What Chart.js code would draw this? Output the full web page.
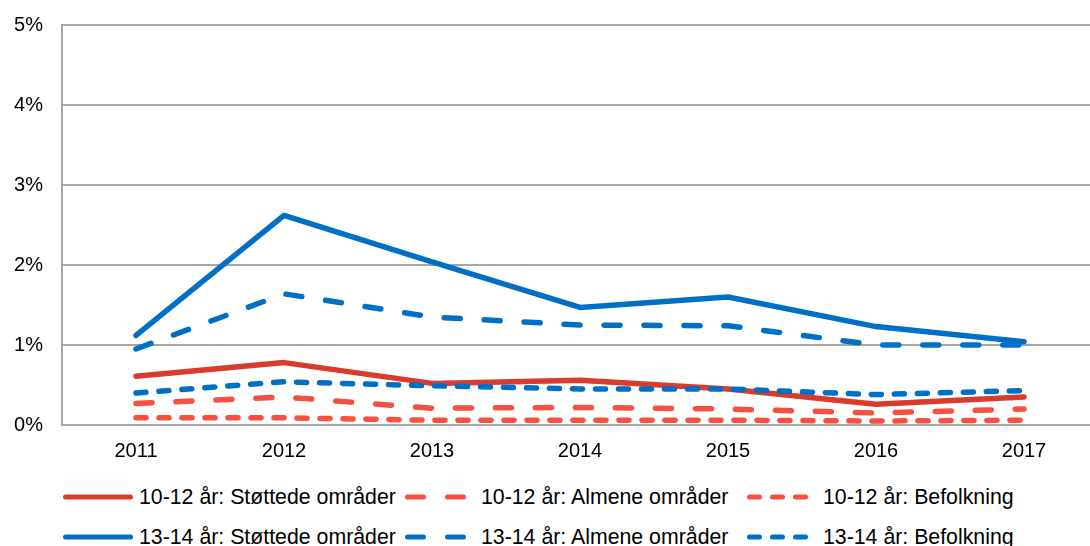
<!DOCTYPE html>
<html>
<head>
<meta charset="utf-8">
<script src="https://cdn.jsdelivr.net/npm/chart.js@4/dist/chart.umd.min.js"></script>
<style>
  html, body { margin: 0; padding: 0; background: #fff; overflow: hidden; }
  body { width: 1090px; height: 546px; position: relative; font-family: "Liberation Sans", Arial, sans-serif; }
  #wrap { position: absolute; left: 0; top: 0; width: 1100px; height: 470px; }
  #legend { position: absolute; left: 63px; top: 477px; width: 1030px; }
  .row { display: flex; height: 40px; align-items: center; }
  .item { width: 342px; display: flex; align-items: center; flex: none; }
  .item svg { width: 70px; height: 10px; flex: none; }
  .item span { margin-left: 6px; font-size: 21.3px; color: #000; white-space: nowrap; }
</style>
</head>
<body>
<div id="wrap"><canvas id="chart"></canvas></div>
<div id="legend"></div>
<script>
// Years on the x axis
const years = ['2011', '2012', '2013', '2014', '2015', '2016', '2017'];

// Share in percent, 10-12 year olds
const young_supported = [0.61, 0.78, 0.52, 0.56, 0.45, 0.26, 0.35];
const young_general = [0.27, 0.35, 0.21, 0.22, 0.20, 0.15, 0.20];
const young_population = [0.09, 0.09, 0.06, 0.06, 0.06, 0.05, 0.06];

// Share in percent, 13-14 year olds
const teen_supported = [1.12, 2.62, 2.04, 1.47, 1.60, 1.23, 1.04];
const teen_general = [0.95, 1.64, 1.35, 1.25, 1.24, 1.00, 1.00];
const teen_population = [0.40, 0.54, 0.49, 0.45, 0.45, 0.38, 0.43];

const yTicks = [0, 1, 2, 3, 4, 5];

const RED = '#D93B2C';
const RED_LIGHT = '#F65040';
const BLUE = '#0070C6';
const DASH = [16, 24];
const DOT = [10, 13];

const series = [
    { label: '10-12 år: Støttede områder', data: young_supported, color: RED, dash: [] },
    { label: '10-12 år: Almene områder', data: young_general, color: RED_LIGHT, dash: DASH },
    { label: '10-12 år: Befolkning', data: young_population, color: RED_LIGHT, dash: DOT },
    { label: '13-14 år: Støttede områder', data: teen_supported, color: BLUE, dash: [] },
    { label: '13-14 år: Almene områder', data: teen_general, color: BLUE, dash: DASH },
    { label: '13-14 år: Befolkning', data: teen_population, color: BLUE, dash: DOT }
];

const tickFont = { family: '"Liberation Sans", Arial, sans-serif', size: 20 };

new Chart(document.getElementById('chart'), {
    type: 'line',
    data: {
        labels: years,
        datasets: series.map((s, i) => ({
            label: s.label,
            data: s.data,
            borderColor: s.color,
            backgroundColor: s.color,
            borderWidth: 5.5,
            borderDash: s.dash,
            borderCapStyle: 'round',
            borderJoinStyle: 'round',
            pointRadius: 0,
            tension: 0,
            fill: false,
            order: series.length - i // later series on top
        }))
    },
    options: {
        responsive: true,
        maintainAspectRatio: false,
        animation: false,
        layout: { padding: { top: 25, right: 2, left: 0, bottom: 0 } },
        plugins: {
            legend: { display: false },
            tooltip: { enabled: false }
        },
        scales: {
            x: {
                offset: true,
                grid: { display: false, drawTicks: false },
                border: { display: true, color: '#A6A6A6', width: 2 },
                ticks: { color: '#000', font: tickFont, padding: 14, maxRotation: 0 },
                afterFit: (scale) => { scale.height = 45; }
            },
            y: {
                min: 0,
                max: 5,
                grid: { color: '#A6A6A6', lineWidth: 2, drawTicks: false },
                border: { display: true, color: '#A6A6A6', width: 2 },
                ticks: {
                    color: '#000',
                    font: tickFont,
                    padding: 19,
                    stepSize: 1,
                    callback: (v) => yTicks.includes(v) ? v + '%' : ''
                },
                afterFit: (scale) => {
                    scale.width = 62;
                    scale.paddingTop = 0;
                    scale.paddingBottom = 0;
                }
            }
        }
    }
});

// Legend in two rows of three, with line samples matching each dataset
const legend = document.getElementById('legend');
for (let r = 0; r < 2; r++) {
    const row = document.createElement('div');
    row.className = 'row';
    series.slice(r * 3, r * 3 + 3).forEach(s => {
        const item = document.createElement('div');
        item.className = 'item';
        const dashAttr = s.dash.length ? ` stroke-dasharray="${s.dash.join(' ')}"` : '';
        item.innerHTML =
            `<svg viewBox="0 0 70 10"><line x1="2.5" y1="5" x2="67.5" y2="5" stroke="${s.color}" stroke-width="5" stroke-linecap="round"${dashAttr}/></svg>` +
            `<span>${s.label}</span>`;
        row.appendChild(item);
    });
    legend.appendChild(row);
}
</script>
</body>
</html>
